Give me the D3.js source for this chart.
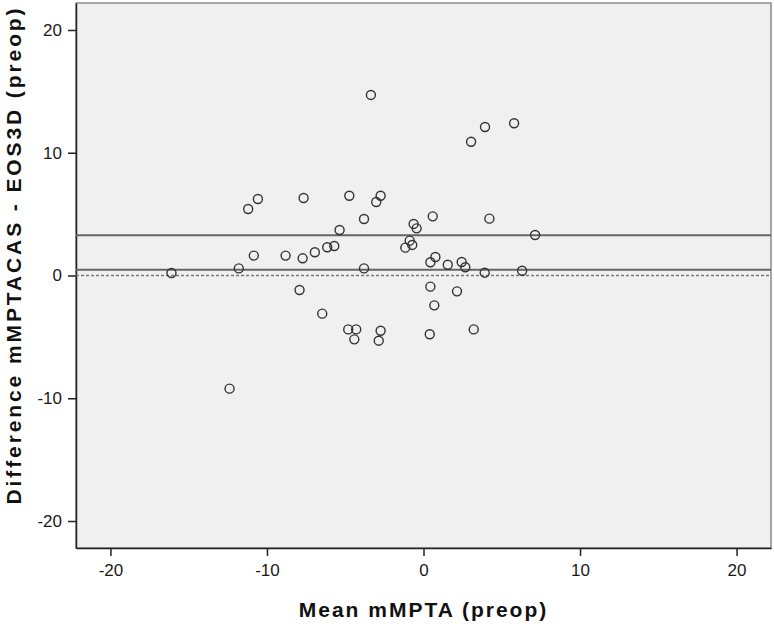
<!DOCTYPE html>
<html>
<head>
<meta charset="utf-8">
<script src="https://cdn.jsdelivr.net/npm/d3@7"></script>
<style>
    body { margin: 0; background: #fff; }
    svg { display: block; font-family: "Liberation Sans", Arial, sans-serif; }
</style>
</head>
<body>
<div id="chart"></div>
<script>
// mean of the two methods (x) and their difference (y)
const meanValues = [
    -3.36, -11.2, -10.58, -7.66, -4.74, -2.74, -3.02, -3.8, -5.36, -5.7,
    -6.15, -6.94, -7.72, -8.81, -10.84, -11.8, -16.1, -3.8,
    3.93, 5.79, 3.04, 0.59, 4.21, -0.63, -0.44, 7.13, -0.88, -0.72,
    -1.16, 0.76, 0.44, 1.55, 2.44, 2.67, 3.91, 6.3,
    -7.92, -6.47, -4.81, -4.3, -4.42, -2.74, -2.86,
    0.44, 2.14, 0.69, 3.21, 0.4, -12.39
];
const diffValues = [
    14.71, 5.42, 6.23, 6.31, 6.5, 6.5, 5.99, 4.6, 3.71, 2.4,
    2.3, 1.89, 1.4, 1.62, 1.62, 0.58, 0.2, 0.58,
    12.1, 12.4, 10.9, 4.82, 4.63, 4.2, 3.84, 3.3, 2.84, 2.49,
    2.27, 1.51, 1.08, 0.88, 1.1, 0.67, 0.23, 0.39,
    -1.18, -3.11, -4.39, -4.39, -5.2, -4.5, -5.31,
    -0.91, -1.29, -2.43, -4.39, -4.79, -9.22
];
// reference lines: mean difference, upper line, zero
const meanDiff = 0.47;
const upperLine = 3.28;
const zeroLine = 0;

const xTicks = [-20, -10, 0, 10, 20];
const yTicks = [-20, -10, 0, 10, 20];
const xLabel = 'Mean mMPTA (preop)';
const yLabel = 'Difference mMPTACAS - EOS3D (preop)';

const width = 774, height = 624;
const margin = { top: 3, right: 3, bottom: 76, left: 76 };

const svg = d3.select('#chart').append('svg')
    .attr('width', width)
    .attr('height', height);

const x = d3.scaleLinear()
    .domain([-22.2, 22.2])
    .range([margin.left, width - margin.right]);

const y = d3.scaleLinear()
    .domain([-22.2, 22.2])
    .range([height - margin.bottom, margin.top]);

// plot background
svg.append('rect')
    .attr('x', x(-22.2))
    .attr('y', y(22.2))
    .attr('width', x(22.2) - x(-22.2))
    .attr('height', y(-22.2) - y(22.2))
    .attr('fill', '#f0f0f0')
    .attr('stroke', '#8a8a8a')
    .attr('stroke-width', 1.5);

// axes (hyphen minus like the original, no outer ticks)
const fmt = d => String(d);

const xAxis = svg.append('g')
    .attr('transform', `translate(0,${y(-22.2)})`)
    .call(d3.axisBottom(x).tickValues(xTicks).tickFormat(fmt)
        .tickSizeInner(8).tickSizeOuter(0).tickPadding(8));

const yAxis = svg.append('g')
    .attr('transform', `translate(${x(-22.2)},0)`)
    .call(d3.axisLeft(y).tickValues(yTicks).tickFormat(fmt)
        .tickSizeInner(8).tickSizeOuter(0).tickPadding(6));

[xAxis, yAxis].forEach(g => {
    g.select('.domain').attr('stroke', '#222').attr('stroke-width', 1.5);
    g.selectAll('.tick line').attr('stroke', '#222').attr('stroke-width', 1.5);
    g.selectAll('.tick text')
        .attr('fill', '#1a1a1a')
        .style('font-size', '17px')
        .style('font-family', '"Liberation Sans", Arial, sans-serif');
});

// reference lines
svg.append('g')
    .selectAll('line')
    .data([upperLine, meanDiff])
    .join('line')
    .attr('x1', x(-22.2))
    .attr('x2', x(22.2))
    .attr('y1', d => y(d))
    .attr('y2', d => y(d))
    .attr('stroke', '#666')
    .attr('stroke-width', 1.8);

svg.append('line')
    .attr('x1', x(-22.2))
    .attr('x2', x(22.2))
    .attr('y1', y(zeroLine))
    .attr('y2', y(zeroLine))
    .attr('stroke', '#777')
    .attr('stroke-width', 1.5)
    .attr('stroke-dasharray', '3,2');

// points
svg.append('g')
    .selectAll('circle')
    .data(meanValues.map((m, i) => [m, diffValues[i]]))
    .join('circle')
    .attr('cx', d => x(d[0]))
    .attr('cy', d => y(d[1]))
    .attr('r', 4.5)
    .attr('fill', 'none')
    .attr('stroke', '#333')
    .attr('stroke-width', 1.4);

// axis titles
svg.append('text')
    .attr('x', (x(-22.2) + x(22.2)) / 2)
    .attr('y', 617)
    .attr('text-anchor', 'middle')
    .style('font-size', '21px')
    .style('font-weight', 'bold')
    .style('letter-spacing', '2px')
    .attr('fill', '#111')
    .text(xLabel);

svg.append('text')
    .attr('transform', 'translate(21,255) rotate(-90)')
    .attr('text-anchor', 'middle')
    .style('font-size', '21px')
    .style('font-weight', 'bold')
    .style('letter-spacing', '2.9px')
    .attr('fill', '#111')
    .text(yLabel);
</script>
</body>
</html>
